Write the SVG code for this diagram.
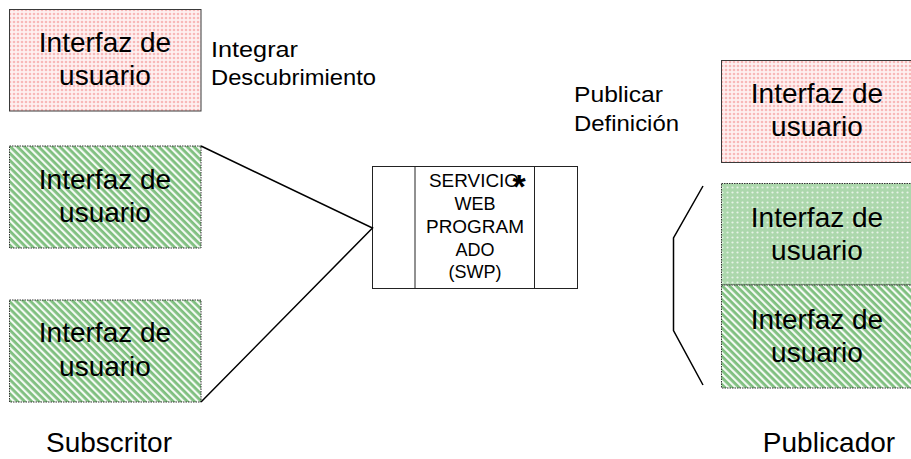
<svg xmlns="http://www.w3.org/2000/svg" width="911" height="459" viewBox="0 0 911 459">
<defs>
<pattern id="pinkDots" width="4" height="4" patternUnits="userSpaceOnUse">
<rect width="4" height="4" fill="#ffffff"/>
<circle cx="2" cy="2" r="1.3" fill="#f6a9a9"/>
<rect x="0" y="0" width="4" height="4" fill="#fbd3d3" opacity="0.35"/>
</pattern>
<pattern id="greenDots" width="5" height="5" patternUnits="userSpaceOnUse">
<rect width="5" height="5" fill="#acd7ac"/>
<circle cx="2.5" cy="2.5" r="1.1" fill="#e6f3e6"/>
</pattern>
<pattern id="greenStripes" width="5" height="5" patternUnits="userSpaceOnUse" patternTransform="rotate(45)">
<rect width="5" height="5" fill="#f4faf4"/>
<rect width="5" height="2.8" fill="#7fbf7f"/>
</pattern>
</defs>
<style>
.t{font-family:"Liberation Sans",Arial,sans-serif;fill:#000}
.big{font-size:28px;text-anchor:middle}
.mid{font-size:22px}
.svc{font-size:18px;text-anchor:middle}
.pink{fill:url(#pinkDots);stroke:#3a3a3a;stroke-width:1}
.stripe{fill:url(#greenStripes);stroke:#333;stroke-width:1;stroke-dasharray:1.5 1}
.gdot{fill:url(#greenDots);stroke:#333;stroke-width:1;stroke-dasharray:1.5 1}
.conn{fill:none;stroke:#000;stroke-width:1.5}
</style>
<rect width="911" height="459" fill="#ffffff"/>

<g id="sub-ui-1">
<rect class="pink" x="9.5" y="9.5" width="191.5" height="101.5"/>
<text class="t big" x="105" y="52">Interfaz de</text>
<text class="t big" x="105" y="85">usuario</text>
</g>
<g id="sub-ui-2">
<rect class="stripe" x="9.5" y="146" width="191.5" height="102"/>
<text class="t big" x="105" y="189">Interfaz de</text>
<text class="t big" x="105" y="222">usuario</text>
</g>
<g id="sub-ui-3">
<rect class="stripe" x="9.5" y="300" width="191.5" height="102"/>
<text class="t big" x="105" y="342">Interfaz de</text>
<text class="t big" x="105" y="376">usuario</text>
</g>

<g id="label-integrar">
<text class="t mid" x="211" y="57" textLength="87" lengthAdjust="spacingAndGlyphs">Integrar</text>
<text class="t mid" x="211" y="85" textLength="165" lengthAdjust="spacingAndGlyphs">Descubrimiento</text>
</g>
<g id="label-publicar">
<text class="t mid" x="574" y="102" textLength="89" lengthAdjust="spacingAndGlyphs">Publicar</text>
<text class="t mid" x="574" y="131" textLength="105" lengthAdjust="spacingAndGlyphs">Definición</text>
</g>

<g id="swp">
<rect x="372.5" y="166.5" width="205" height="122" fill="#fff" stroke="#222" stroke-width="1"/>
<line x1="415" y1="166.5" x2="415" y2="288.5" stroke="#222" stroke-width="1"/>
<line x1="534.5" y1="166.5" x2="534.5" y2="288.5" stroke="#222" stroke-width="1"/>
<text class="t svc" x="474" y="187" textLength="90" lengthAdjust="spacingAndGlyphs">SERVICIO</text>
<text class="t" x="519" y="198" font-size="34" font-weight="bold" text-anchor="middle">*</text>
<text class="t svc" x="475" y="210">WEB</text>
<text class="t svc" x="475" y="233" textLength="98" lengthAdjust="spacingAndGlyphs">PROGRAM</text>
<text class="t svc" x="475" y="256">ADO</text>
<text class="t svc" x="475" y="278">(SWP)</text>
</g>

<g id="pub-ui-1">
<rect class="pink" x="721.5" y="60.5" width="192" height="102"/>
<text class="t big" x="817" y="103">Interfaz de</text>
<text class="t big" x="817" y="136">usuario</text>
</g>
<g id="pub-ui-2">
<rect class="gdot" x="721.5" y="183.5" width="192" height="101.5"/>
<text class="t big" x="817" y="227">Interfaz de</text>
<text class="t big" x="817" y="260">usuario</text>
</g>
<g id="pub-ui-3">
<rect class="stripe" x="721.5" y="285" width="192" height="103"/>
<text class="t big" x="817" y="329">Interfaz de</text>
<text class="t big" x="817" y="362">usuario</text>
</g>

<g id="connectors">
<polyline class="conn" points="201,146 372.5,228 201,402"/>
<polyline class="conn" points="703,186 673.5,238 673.5,330.5 703,385"/>
</g>

<g id="role-labels">
<text class="t big" x="109" y="452">Subscritor</text>
<text class="t big" x="829" y="452">Publicador</text>
</g>
</svg>
